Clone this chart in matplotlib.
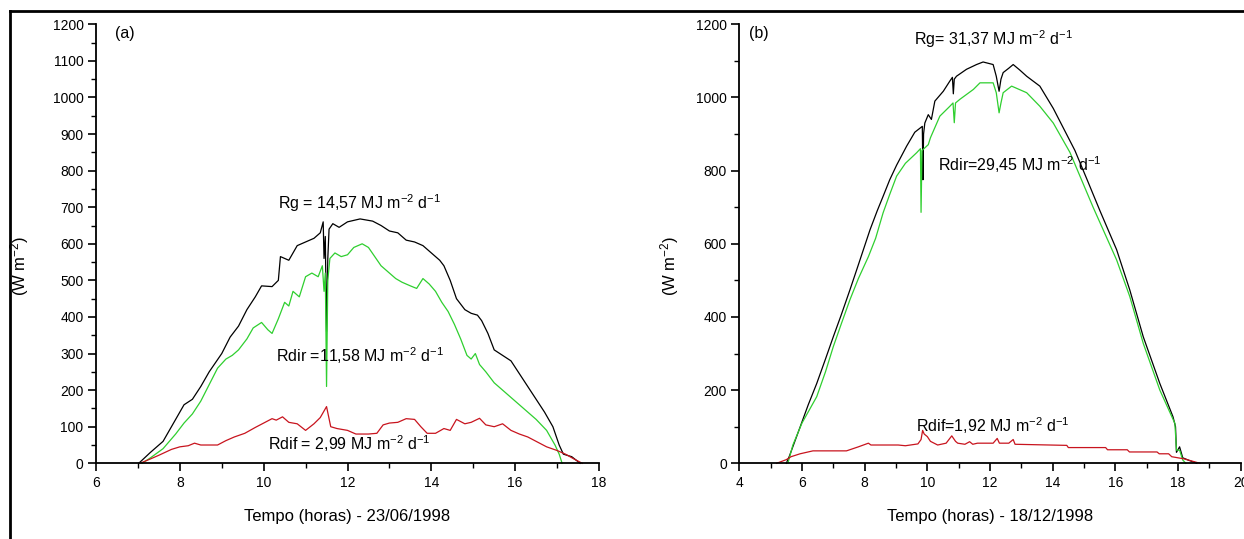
import matplotlib
matplotlib.use("Agg")
import matplotlib.pyplot as plt
from matplotlib.ticker import MultipleLocator
from matplotlib.lines import Line2D

plt.rcParams['font.family'] = ['Liberation Sans', 'DejaVu Sans']
plt.rcParams['mathtext.fontset'] = 'custom'
plt.rcParams['mathtext.rm'] = 'Liberation Sans'
plt.rcParams['mathtext.it'] = 'Liberation Sans:italic'
plt.rcParams['mathtext.bf'] = 'Liberation Sans:bold'

# ---------------- Panel (a) 23/06/1998 ----------------
hours_a_rg = [7.02, 7.3, 7.6, 7.9, 8.1, 8.3, 8.5, 8.7, 9.0, 9.2, 9.4, 9.6, 9.8, 9.95, 10.2, 10.35, 10.4,
              10.6, 10.8, 11.0, 11.2, 11.35, 11.42, 11.44, 11.47, 11.5, 11.53, 11.56, 11.65, 11.8, 12.0,
              12.3, 12.6, 12.8, 13.0, 13.2, 13.4, 13.6, 13.8, 14.0, 14.2, 14.3, 14.45, 14.6, 14.8, 14.95,
              15.1, 15.2, 15.35, 15.5, 15.7, 15.9, 16.1, 16.3, 16.5, 16.7, 16.9, 17.05, 17.15, 17.35, 17.55]
rg_a = [0, 30, 60, 120, 160, 175, 210, 250, 300, 345, 375, 420, 455, 485, 483, 500, 565,
        555, 595, 605, 615, 630, 660, 560, 620, 360, 560, 640, 655, 645, 660,
        668, 662, 650, 635, 630, 610, 605, 595, 575, 555, 540, 500, 450, 420, 410,
        405, 390, 355, 310, 295, 280, 245, 210, 175, 140, 100, 50, 25, 18, 0]

hours_a_dir = [7.1, 7.3, 7.6, 7.9, 8.1, 8.3, 8.5, 8.7, 8.9, 9.1, 9.25, 9.4, 9.6, 9.75, 9.95, 10.1, 10.2,
               10.35, 10.5, 10.6, 10.7, 10.85, 11.0, 11.15, 11.3, 11.4, 11.44, 11.47, 11.5, 11.53, 11.58,
               11.7, 11.85, 12.0, 12.15, 12.35, 12.5, 12.65, 12.8, 13.0, 13.15, 13.3, 13.5, 13.65, 13.8,
               13.95, 14.1, 14.25, 14.4, 14.55, 14.7, 14.85, 14.95, 15.05, 15.15, 15.3, 15.5, 15.7, 15.9,
               16.1, 16.3, 16.5, 16.75, 16.95, 17.05, 17.12]
rdir_a = [0, 15, 40, 80, 110, 135, 170, 215, 260, 285, 295, 310, 340, 370, 385, 365, 355,
          395, 440, 430, 470, 455, 510, 520, 510, 540, 470, 520, 210, 500, 560,
          575, 565, 570, 590, 600, 590, 565, 540, 520, 505, 495, 485, 478, 505,
          490, 470, 440, 415, 380, 340, 295, 285, 300, 270, 250, 220, 200, 180,
          160, 140, 120, 90, 50, 25, 0]

hours_a_dif = [7.05, 7.3, 7.5, 7.8, 8.0, 8.2, 8.35, 8.5, 8.9, 9.1, 9.3, 9.55, 9.8, 10.0, 10.2, 10.3, 10.45,
               10.6, 10.8, 11.0, 11.2, 11.35, 11.5, 11.6, 11.75, 12.0, 12.2, 12.5, 12.7, 12.85, 13.0,
               13.2, 13.4, 13.6, 13.75, 13.9, 14.1, 14.3, 14.45, 14.6, 14.8, 14.95, 15.15, 15.3, 15.5,
               15.7, 15.9, 16.1, 16.3, 16.5, 16.75, 17.0, 17.2, 17.4, 17.6]
rdif_a = [0, 12, 22, 38, 45, 48, 55, 50, 50, 62, 72, 82, 98, 110, 122, 118, 127,
          112, 108, 90, 108, 125, 155, 100, 95, 90, 80, 80, 82, 105, 110,
          112, 122, 120, 100, 82, 82, 95, 90, 120, 108, 112, 123, 105, 100,
          108, 90, 80, 72, 60, 45, 35, 25, 12, 0]

# ---------------- Panel (b) 18/12/1998 ----------------
hours_b_rg = [5.5, 5.6, 5.94, 6.2, 6.47, 6.75, 7.0, 7.25, 7.53, 7.75, 7.96, 8.17, 8.4, 8.59, 8.8, 9.02,
              9.34, 9.6, 9.84, 9.86, 9.88, 9.92, 10.03, 10.13, 10.24, 10.51, 10.72, 10.8, 10.83, 10.86,
              10.93, 11.25, 11.57, 11.78, 12.1, 12.2, 12.29, 12.35, 12.42, 12.6, 12.74, 12.95, 13.17,
              13.59, 14.02, 14.23, 14.71, 15.1, 15.51, 16.04, 16.46, 16.89, 17.42, 17.84, 17.92, 17.95,
              18.05, 18.15, 18.35, 18.6]
rg_b = [0, 20, 99, 160, 218, 285, 346, 405, 474, 530, 584, 638, 690, 730, 775, 815,
        867, 905, 921, 775, 900, 930, 953, 940, 990, 1017, 1045, 1055, 1010, 1050,
        1058, 1077, 1090, 1097, 1090, 1058, 1017, 1050, 1068, 1080, 1090, 1075, 1058,
        1031, 970, 935, 855, 775, 690, 584, 474, 346, 218, 127, 100, 30,
        45, 15, 8, 0]

hours_b_dir = [5.55, 5.71, 6.0, 6.47, 6.75, 7.0, 7.25, 7.53, 7.8, 8.12, 8.35, 8.59, 8.8, 9.02, 9.3,
               9.66, 9.78, 9.8, 9.83, 10.03, 10.1, 10.4, 10.72, 10.82, 10.86, 10.9, 11.04, 11.47,
               11.68, 12.1, 12.2, 12.29, 12.35, 12.42, 12.69, 13.17, 13.59, 14.02, 14.55, 15.29,
               16.04, 16.46, 16.89, 17.42, 17.9, 17.95, 18.05, 18.15, 18.25]
rdir_b = [0, 50, 110, 182, 250, 319, 380, 447, 505, 565, 615, 685, 735, 785, 820,
          849, 860, 686, 855, 871, 890, 949, 976, 985, 931, 985, 995, 1022,
          1040, 1040, 1013, 958, 985, 1013, 1031, 1013, 976, 930, 850, 700,
          556, 456, 328, 200, 109, 36, 36, 9, 0]

hours_b_dif = [5.19, 5.5, 5.65, 5.94, 6.35, 7.42, 7.8, 8.12, 8.2, 8.56, 9.07, 9.3, 9.7, 9.8, 9.85, 9.9,
               10.0, 10.1, 10.33, 10.6, 10.78, 10.9, 10.97, 11.2, 11.35, 11.45, 11.6, 12.1, 12.23, 12.3,
               12.6, 12.74, 12.8, 14.45, 14.5, 15.69, 15.75, 16.38, 16.45, 17.33, 17.4, 17.7, 17.8,
               18.2, 18.7]
rdif_b = [0, 10, 18, 26, 34, 34, 45, 55, 50, 50, 50, 48, 53, 65, 90, 80,
          73, 60, 50, 55, 75, 60, 55, 52, 59, 52, 55, 55, 68, 55,
          55, 65, 52, 49, 43, 43, 37, 37, 31, 31, 26, 26, 18,
          12, 0]

xlabel_a = "Tempo (horas) - 23/06/1998"
xlabel_b = "Tempo (horas) - 18/12/1998"
ylabel = "(W m$^{-2}$)"

GREEN = "#2fcf2f"
RED = "#c8141e"
BLACK = "#000000"

W, H = 1244, 539
fig = plt.figure(figsize=(W / 100, H / 100), dpi=100)

Y0, Y1 = 463.3, 24.3
ax_a = fig.add_axes([96.0 / W, 1 - Y0 / H, (599.0 - 96.0) / W, (Y0 - Y1) / H])
ax_b = fig.add_axes([739.3 / W, 1 - Y0 / H, (1240.7 - 739.3) / W, (Y0 - Y1) / H])

lw = 0.9
ax_a.plot(hours_a_rg, rg_a, color=BLACK, lw=lw, clip_on=False)
ax_a.plot(hours_a_dir, rdir_a, color=GREEN, lw=lw, clip_on=False)
ax_a.plot(hours_a_dif, rdif_a, color=RED, lw=lw, clip_on=False)

ax_b.plot(hours_b_rg, rg_b, color=BLACK, lw=lw, clip_on=False)
ax_b.plot(hours_b_dir, rdir_b, color=GREEN, lw=lw, clip_on=False)
ax_b.plot(hours_b_dif, rdif_b, color=RED, lw=lw, clip_on=False)

fs = 10
lfs = 12
for ax, (x0, x1), ymaj, xl in [(ax_a, (6, 18), 100, xlabel_a), (ax_b, (4, 20), 200, xlabel_b)]:
    ax.set_xlim(x0, x1)
    ax.set_ylim(0, 1200)
    ax.spines['top'].set_visible(False)
    ax.spines['right'].set_visible(False)
    ax.spines['left'].set_linewidth(1.3)
    ax.spines['bottom'].set_linewidth(1.3)
    ax.xaxis.set_major_locator(MultipleLocator(2))
    ax.xaxis.set_minor_locator(MultipleLocator(1))
    ax.yaxis.set_major_locator(MultipleLocator(ymaj))
    ax.yaxis.set_minor_locator(MultipleLocator(ymaj / 2))
    ax.tick_params(which='major', direction='out', length=6, width=1.2, labelsize=fs, pad=3)
    ax.tick_params(which='minor', direction='out', length=3.5, width=1.0)
    ax.set_xlabel(xl, fontsize=lfs, labelpad=14)
    ax.set_ylabel(ylabel, fontsize=lfs)
    ax.patch.set_alpha(0)

ax_a.yaxis.set_label_coords((31 - 96.0) / 503.0, 0.45)
ax_b.yaxis.set_label_coords((681 - 739.3) / 501.4, 0.45)

tfs = 11.5
ax_a.text(0.038, 0.98, "(a)", transform=ax_a.transAxes, fontsize=tfs, va='center')
ax_a.text(10.34, 712, "Rg = 14,57 MJ m$^{-2}$ d$^{-1}$", fontsize=tfs, va='center')
ax_a.text(10.29, 293, "Rdir =11,58 MJ m$^{-2}$ d$^{-1}$", fontsize=tfs, va='center')
ax_a.text(10.10, 55, "Rdif = 2,99 MJ m$^{-2}$ d$^{-1}$", fontsize=tfs, va='center')

ax_b.text(0.02, 0.98, "(b)", transform=ax_b.transAxes, fontsize=tfs, va='center')
ax_b.text(9.59, 1160, "Rg= 31,37 MJ m$^{-2}$ d$^{-1}$", fontsize=tfs, va='center')
ax_b.text(10.35, 816, "Rdir=29,45 MJ m$^{-2}$ d$^{-1}$", fontsize=tfs, va='center')
ax_b.text(9.64, 104, "Rdif=1,92 MJ m$^{-2}$ d$^{-1}$", fontsize=tfs, va='center')

# outer frame (top and left edges visible in the reference)
fy = 1 - 10.5 / H
fx = 9.6 / W
fig.add_artist(Line2D([fx, 1.0], [fy, fy], transform=fig.transFigure, color='black', lw=2.0))
fig.add_artist(Line2D([fx, fx], [0, fy], transform=fig.transFigure, color='black', lw=2.0))

fig.savefig("out.png", dpi=100)
